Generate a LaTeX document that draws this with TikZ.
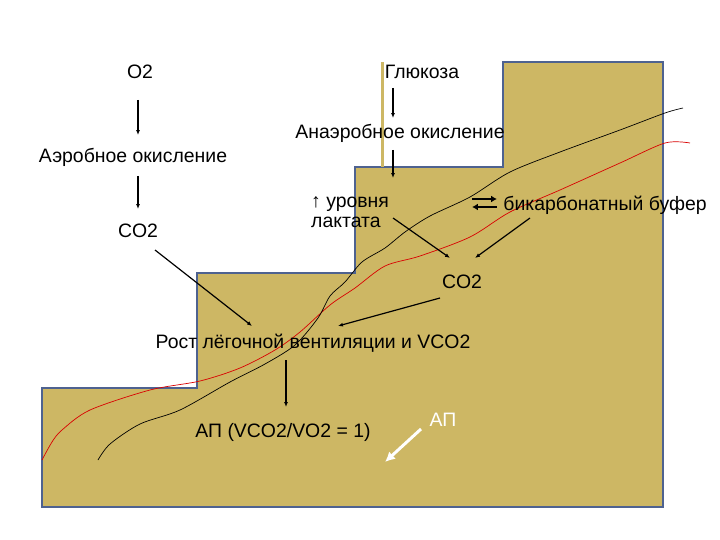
\documentclass[tikz,border=0pt]{standalone}
\usepackage{fontspec}
\setmainfont{Liberation Sans}
\begin{document}
\begin{tikzpicture}[x=1bp,y=-1bp,
  lbl/.style={font=\fontsize{19.5}{21}\selectfont,inner sep=1pt},
  arr/.style={-{Latex[length=5pt,width=4pt]},line width=1.2pt},
  lin/.style={line width=1.1pt}]
\usetikzlibrary{arrows.meta}
\definecolor{khaki}{HTML}{CDB764}
\definecolor{edge}{HTML}{4E6290}
\useasboundingbox (0,0) rectangle (720,540);
\fill[white] (0,0) rectangle (720,540);
\filldraw[fill=khaki,draw=edge,line width=2.2pt] (42,388) -- (197,388) -- (197,273) -- (355,273) -- (355,167) -- (503,167) -- (503,62) -- (663,62) -- (663,507) -- (42,507) -- cycle;
\fill[khaki] (381,62) rectangle (384,167);
\draw[red!85!black,line width=0.7pt] plot[smooth] coordinates {(42,460) (52,442) (62,430) (90,410) (150,390) (200,381) (240,368) (275,350) (300,332) (330,305) (355,288) (385,266) (420,256) (470,237) (510,212) (560,190) (620,163) (665,143) (690,143)};
\draw[black,line width=0.7pt] plot[smooth] coordinates {(98,460) (110,444) (140,424) (180,410) (230,382) (265,364) (295,345) (318,318) (330,296) (345,282) (362,262) (385,248) (405,232) (430,216) (470,197) (510,172) (560,152) (620,130) (665,113) (683,108)};
\node[lbl] (o2) at (140,72) {O2};
\node[lbl] (glu) at (422,72) {Глюкоза};
\node[lbl] (aer) at (133,157) {Аэробное окисление};
\node[lbl] (co2a) at (138,231) {CO2};
\node[lbl] (ana) at (400,133) {Анаэробное окисление};
\node[lbl,align=left,anchor=west,font=\fontsize{19.5}{20}\selectfont] (lac) at (310,212) {↑ уровня\\лактата};
\node[lbl] (buf) at (605,205) {бикарбонатный буфер};
\node[lbl] (co2b) at (462,282) {CO2};
\node[lbl] (rost) at (313,343) {Рост лёгочной вентиляции и VCO2};
\node[lbl] (ap) at (283,432) {АП (VCO2/VO2 = 1)};
\node[lbl,text=white] (ap2) at (443,420) {АП};
\coordinate (a1) at (138,100); \coordinate (a2) at (138,135);
\coordinate (b1) at (138,176); \coordinate (b2) at (138,209);
\coordinate (c1) at (393,88); \coordinate (c2) at (393,118);
\coordinate (d1) at (393,150); \coordinate (d2) at (393,178);
\coordinate (e1) at (393,218); \coordinate (e2) at (450,258);
\coordinate (f1) at (530,218); \coordinate (f2) at (475,258);
\coordinate (g1) at (155,250); \coordinate (g2) at (252,326);
\coordinate (h1) at (440,298); \coordinate (h2) at (338,326);
\coordinate (i1) at (286,360); \coordinate (i2) at (286,407);
\coordinate (j1) at (421,429); \coordinate (j2) at (385,462);
\draw[arr] (a1) -- (a2);
\draw[arr] (b1) -- (b2);
\draw[arr] (c1) -- (c2);
\draw[arr] (d1) -- (d2);
\draw[arr] (e1) -- (e2);
\draw[arr] (f1) -- (f2);
\draw[arr] (g1) -- (g2);
\draw[arr] (h1) -- (h2);
\draw[arr] (i1) -- (i2);
\draw[white,-{Latex[length=10pt,width=10pt]},line width=3pt] (j1) -- (j2);
\coordinate (k1) at (472,199); \coordinate (k2) at (497,199);
\coordinate (k3) at (497,207); \coordinate (k4) at (472,207);
\draw[-{Latex[length=6pt,width=7pt]},line width=1.8pt] (k1) -- (k2);
\draw[-{Latex[length=6pt,width=7pt]},line width=1.8pt] (k3) -- (k4);
\end{tikzpicture}
\end{document}
